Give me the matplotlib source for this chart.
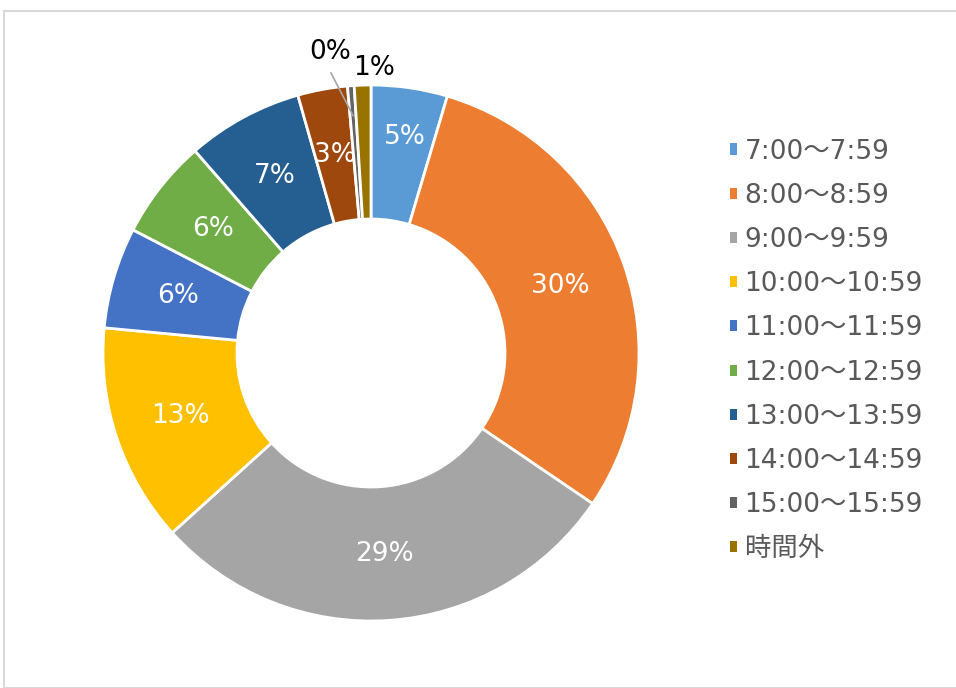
import numpy as np
import matplotlib
matplotlib.use("Agg")
import matplotlib.pyplot as plt
from matplotlib.patches import Rectangle

plt.rcParams['font.family'] = ['DejaVu Sans', 'Noto Sans CJK JP']

categories = ["7:00～7:59", "8:00～8:59", "9:00～9:59", "10:00～10:59", "11:00～11:59",
              "12:00～12:59", "13:00～13:59", "14:00～14:59", "15:00～15:59", "時間外"]
values = [4.6, 29.9, 28.8, 13.2, 6.1, 6.0, 7.0, 3.0, 0.4, 1.0]
colors = ["#5B9BD5", "#ED7D31", "#A5A5A5", "#FFC000", "#4472C4",
          "#70AD47", "#255E91", "#9E480E", "#636363", "#997300"]

W, H = 956, 688
fig = plt.figure(figsize=(W / 100, H / 100), dpi=100)
ax = fig.add_axes([0, 0, 1, 1])

cx, cy = 371, H - 353
R = 268
ring = 134
FS = 19

wedges, texts, autotexts = ax.pie(
    values, colors=colors, startangle=90, counterclock=False,
    radius=R, center=(cx, cy),
    wedgeprops=dict(width=ring, edgecolor='white', linewidth=2),
    autopct=lambda p: f'{p:.0f}%', pctdistance=(R - ring / 2) / R,
    textprops=dict(color='white', fontsize=FS))

# first slice label sits a bit further out in the reference
autotexts[0].set_position((405, H - 137))

# outside labels for the two tiny slices
autotexts[8].set_position((330, H - 52))
autotexts[8].set_color('black')
autotexts[9].set_position((374, H - 68))
autotexts[9].set_color('black')

# leader line for the 0% slice
total = sum(values)
cum = np.cumsum(values)
mid = (cum[8] - values[8] / 2) / total
ang = np.deg2rad(90 - 360 * mid)
ax.plot([331, cx + (R - 30) * np.cos(ang)], [H - 73, cy + (R - 30) * np.sin(ang)],
        color='#A6A6A6', linewidth=1.2, zorder=5)

ax.set_xlim(0, W)
ax.set_ylim(0, H)
ax.set_aspect('equal')
ax.axis('off')

# legend
leg = ax.legend(wedges, categories, loc='upper left', bbox_to_anchor=(719 / W, 1 - 128 / H),
                frameon=False, fontsize=FS, handlelength=0.27, handleheight=0.27,
                handletextpad=0.3, labelspacing=0.69, borderaxespad=0)
for t in leg.get_texts():
    t.set_color('#595959')
for h in leg.legend_handles:
    h.set_edgecolor('none')

fig.patches.append(Rectangle((4 / W, 0), 1, 1 - 11 / H, transform=fig.transFigure,
                             fill=False, edgecolor='#D9D9D9', linewidth=1.5))

fig.savefig('out.png', dpi=100)
